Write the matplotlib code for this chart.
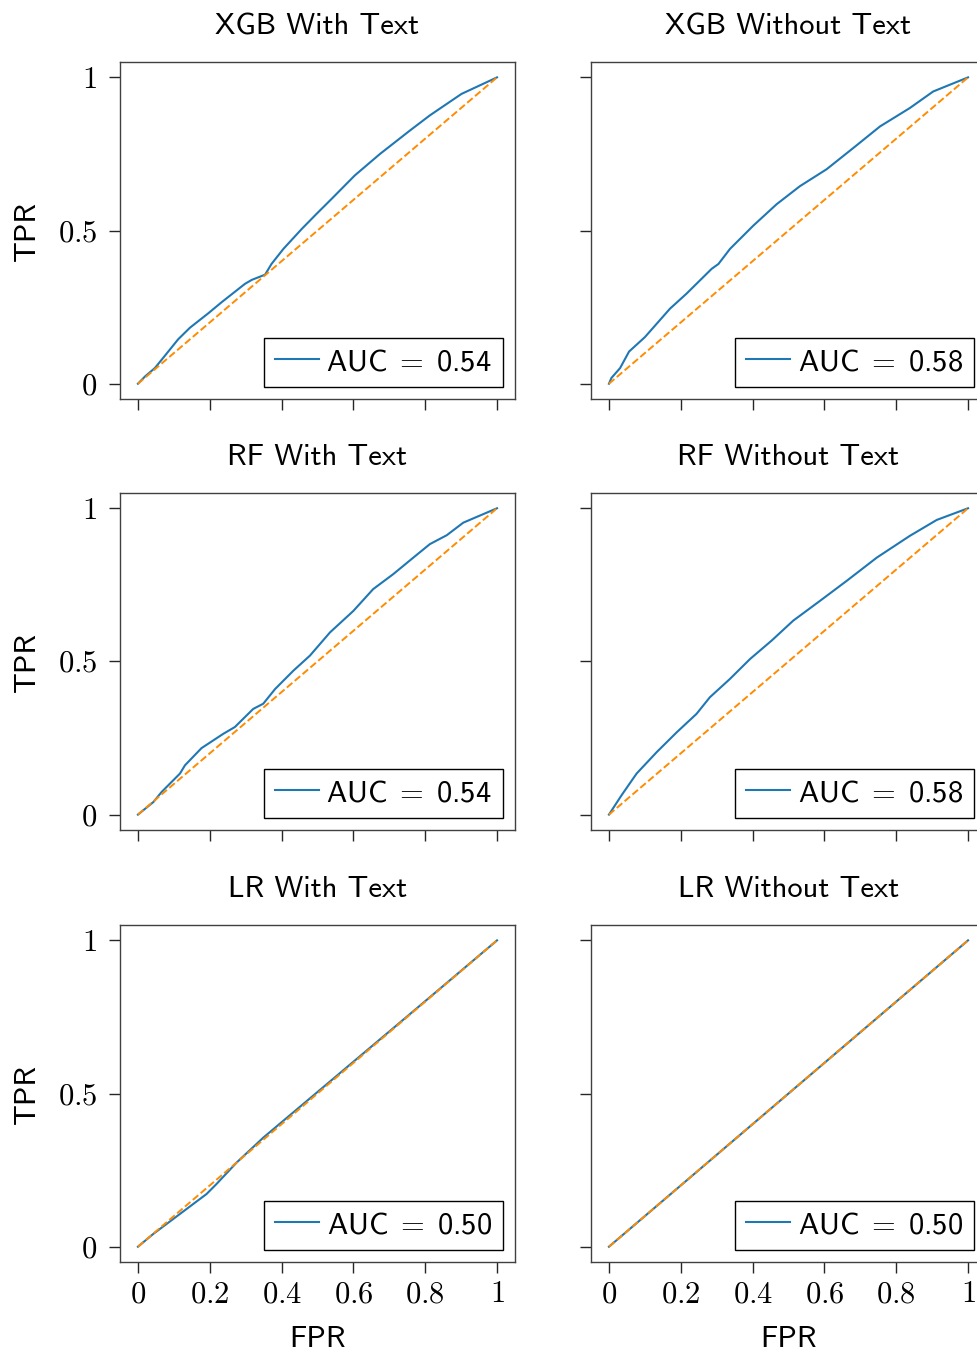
import numpy as np
import matplotlib
matplotlib.use("Agg")
import matplotlib.pyplot as plt

plt.rcParams['mathtext.fontset'] = 'cm'
plt.rcParams['font.family'] = 'cmss10'
plt.rcParams['axes.unicode_minus'] = False

# panel titles and AUC values, in row order (left, right)
titles = ["XGB With Text", "XGB Without Text",
          "RF With Text", "RF Without Text",
          "LR With Text", "LR Without Text"]
aucs = ["0.54", "0.58", "0.54", "0.58", "0.50", "0.50"]

# ROC curves
xgb_text_fpr = [0, 0.02, 0.047, 0.07, 0.112, 0.145, 0.196, 0.233, 0.298, 0.317, 0.354,
                0.372, 0.405, 0.456, 0.497, 0.539, 0.604, 0.674, 0.758, 0.813, 0.901, 1]
xgb_text_tpr = [0, 0.024, 0.051, 0.084, 0.145, 0.183, 0.23, 0.266, 0.326, 0.339, 0.356,
                0.391, 0.44, 0.505, 0.554, 0.603, 0.68, 0.75, 0.827, 0.876, 0.946, 1]

xgb_notext_fpr = [0, 0.007, 0.031, 0.056, 0.1, 0.17, 0.216, 0.286, 0.305, 0.337, 0.402,
                  0.467, 0.532, 0.606, 0.681, 0.755, 0.838, 0.903, 1]
xgb_notext_tpr = [0, 0.019, 0.051, 0.105, 0.152, 0.245, 0.294, 0.375, 0.391, 0.44, 0.516,
                  0.586, 0.645, 0.7, 0.77, 0.84, 0.9, 0.954, 1]

rf_text_fpr = [0, 0.043, 0.066, 0.117, 0.131, 0.177, 0.238, 0.27, 0.321, 0.349, 0.382,
               0.433, 0.479, 0.535, 0.6, 0.655, 0.711, 0.767, 0.813, 0.86, 0.906, 1]
rf_text_tpr = [0, 0.041, 0.074, 0.134, 0.161, 0.217, 0.264, 0.286, 0.345, 0.362, 0.41,
               0.47, 0.519, 0.595, 0.665, 0.736, 0.785, 0.839, 0.883, 0.912, 0.953, 1]

rf_notext_fpr = [0, 0.035, 0.077, 0.133, 0.189, 0.244, 0.281, 0.337, 0.393, 0.453, 0.513,
                 0.588, 0.662, 0.746, 0.838, 0.913, 1]
rf_notext_tpr = [0, 0.063, 0.134, 0.204, 0.269, 0.329, 0.383, 0.443, 0.508, 0.568, 0.633,
                 0.698, 0.763, 0.839, 0.91, 0.962, 1]

lr_text_fpr = [0, 0.043, 0.117, 0.191, 0.219, 0.275, 0.349, 0.5, 0.75, 1]
lr_text_tpr = [0, 0.042, 0.107, 0.172, 0.205, 0.275, 0.356, 0.505, 0.752, 1]

lr_notext_fpr = [0, 1]
lr_notext_tpr = [0, 1]

curves = [(xgb_text_fpr, xgb_text_tpr), (xgb_notext_fpr, xgb_notext_tpr),
          (rf_text_fpr, rf_text_tpr), (rf_notext_fpr, rf_notext_tpr),
          (lr_text_fpr, lr_text_tpr), (lr_notext_fpr, lr_notext_tpr)]

xticks = [0, 0.2, 0.4, 0.6, 0.8, 1]
xticklabels = ["0", "0.2", "0.4", "0.6", "0.8", "1"]
yticks = [0, 0.5, 1]
yticklabels = ["0", "0.5", "1"]

fig = plt.figure(figsize=(9.77, 13.55), dpi=100)

lefts = [0.1228, 0.6049]
bottoms = [0.7055, 0.3875, 0.0686]
w, h = 0.4043, 0.2487
fs = 22

for i, (title, auc, (fpr, tpr)) in enumerate(zip(titles, aucs, curves)):
    row, col = divmod(i, 2)
    ax = fig.add_axes([lefts[col], bottoms[row], w, h])
    ax.plot(fpr, tpr, color='tab:blue', lw=1.5, label=r'AUC$\;=\;$' + auc)
    ax.plot([0, 1], [0, 1], color='darkorange', lw=1.4, ls='--')
    ax.set_xlim(-0.05, 1.05)
    ax.set_ylim(-0.05, 1.05)
    ax.set_title(title, fontsize=fs, pad=20)

    ax.set_xticks(xticks)
    ax.set_yticks(yticks)
    if row == 2:
        ax.set_xticklabels([r'$%s$' % t for t in xticklabels], fontsize=fs)
        ax.set_xlabel('FPR', fontsize=fs)
        ax.xaxis.set_label_coords(0.5, -0.19)
    else:
        ax.set_xticklabels([])
    if col == 0:
        ax.set_yticklabels([r'$%s$' % t for t in yticklabels], fontsize=fs)
        ax.set_ylabel('TPR', fontsize=fs)
        ax.yaxis.set_label_coords(-0.2, 0.5)
    else:
        ax.set_yticklabels([])
    ax.tick_params(length=8, width=1, color='0.15', pad=6)
    ax.tick_params(axis='y', pad=8.5)

    for s in ax.spines.values():
        s.set_color('0.25')
        s.set_linewidth(1)

    leg = ax.legend(loc='lower right', fontsize=fs, fancybox=False, framealpha=1,
                    edgecolor='black', borderaxespad=0.4, handlelength=1.45,
                    handletextpad=0.25, borderpad=0.35)
    leg.get_frame().set_linewidth(1)

fig.savefig('out.png', dpi=100)
